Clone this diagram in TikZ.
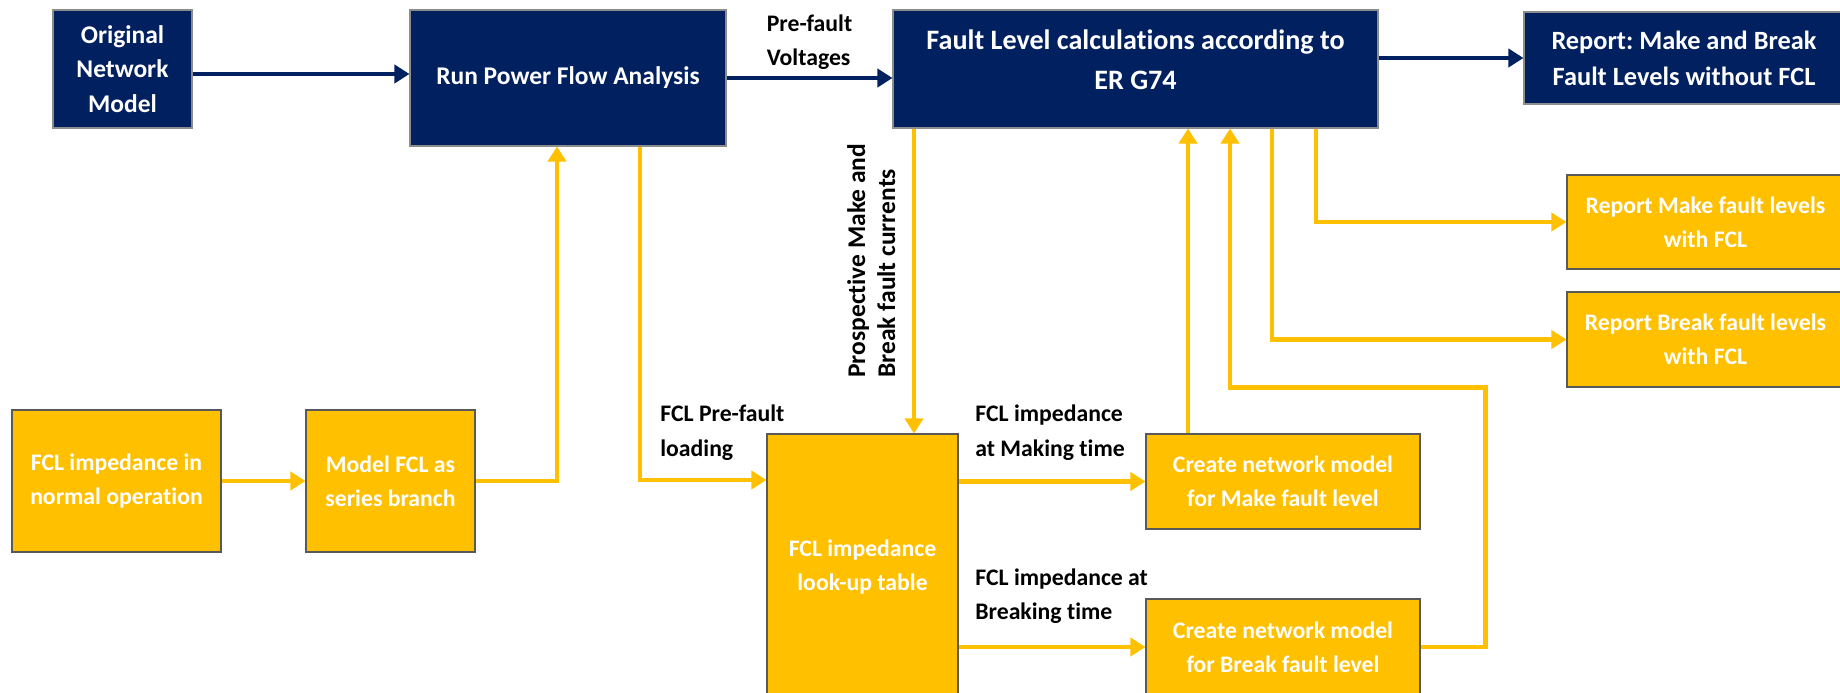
\documentclass[tikz,border=0pt]{standalone}
\usepackage{fontspec}
\setmainfont{Carlito}[Ligatures=NoCommon]
\usepackage{xcolor}
\usetikzlibrary{arrows.meta,positioning,calc}
\definecolor{navyblue}{HTML}{002060}
\definecolor{fclgold}{HTML}{FFC000}
\frenchspacing

\begin{document}
\begin{tikzpicture}[
  every node/.style={font=\fontsize{13.5}{19.5}\selectfont\bfseries,align=center},
  blk/.style={draw=black!45,line width=0.6pt,fill=navyblue,text=white,inner sep=2pt,
    font=\fontsize{14.5}{19.5}\selectfont\bfseries},
  ybox/.style={draw=black!65,line width=0.6pt,fill=fclgold,text=white,inner sep=2pt},
  lbl/.style={align=left,inner sep=0pt,text=black},
  narr/.style={-{Triangle[length=3mm,width=3.6mm]},line width=2.8pt,navyblue},
  yarr/.style={-{Triangle[length=3mm,width=3.6mm]},line width=2.8pt,fclgold}
]
\clip (0,0) rectangle (36.8,-13.86);

% top row
\node[blk,minimum width=2.78cm,minimum height=2.36cm] (orig) at (2.45,-1.38) {Original\\Network\\Model};
\node[blk,minimum width=6.32cm,minimum height=2.72cm] (pfa) at (11.36,-1.56) {Run Power Flow Analysis};
\node[blk,minimum width=9.70cm,minimum height=2.36cm,font=\fontsize{16}{22.7}\selectfont\bfseries] (flc) at (22.71,-1.38)
  {Fault Level calculations according to\\ER G74\\[-12.5pt]\mbox{}};
\node[blk,minimum width=6.4cm,minimum height=1.84cm,font=\fontsize{15}{20.5}\selectfont\bfseries] (rep) at (33.68,-1.16)
  {Report: Make and Break\\Fault Levels without FCL};

% reports with FCL
\node[ybox,minimum width=5.54cm,minimum height=1.88cm] (repmk) at (34.11,-4.44) {Report Make fault levels\\with FCL};
\node[ybox,minimum width=5.54cm,minimum height=1.90cm] (repbk) at (34.11,-6.79) {Report Break fault levels\\with FCL};

% FCL model
\node[ybox,minimum width=4.18cm,minimum height=2.84cm] (fclnorm) at (2.33,-9.62) {FCL impedance in\\normal operation};
\node[ybox,minimum width=3.38cm,minimum height=2.84cm] (model) at (7.81,-9.62) {Model FCL as\\series branch};
\node[ybox,minimum width=3.82cm,minimum height=5.32cm] (lookup) at (17.25,-11.34) {FCL impedance\\look-up table};
\node[ybox,minimum width=5.48cm,minimum height=1.90cm] (crmk) at (25.66,-9.63) {Create network model\\for Make fault level};
\node[ybox,minimum width=5.48cm,minimum height=1.92cm] (crbk) at (25.66,-12.94) {Create network model\\for Break fault level};

% labels
\node[lbl,anchor=north west] (lprel) at (13.2,-8.1) {FCL Pre-fault\\loading};
\node[lbl,anchor=north west] (lmake) at (19.5,-8.1) {FCL impedance\\at Making time};
\node[lbl,anchor=north west] (lbreak) at (19.5,-11.36) {FCL impedance at\\Breaking time};
\node[lbl,rotate=90,anchor=north west,font=\fontsize{14.5}{17}\selectfont\bfseries] (lprosp) at (16.94,-7.56)
  {Prospective Make and\\Break fault currents};

% navy arrows
\draw[narr] ([yshift=-1mm]orig.east) -- ([yshift=-1mm]orig.east -| pfa.west);
\draw[narr] (pfa.east) -- (pfa.east -| flc.west) node[midway,above=1.2mm,lbl]{Pre-fault\\Voltages};
\draw[narr] (flc.east |- rep.west) -- (rep.west);

% yellow arrows
\draw[yarr] (fclnorm) -- (model);
\draw[yarr] (model.east) -| ([xshift=-2.2mm]pfa.south);
\draw[yarr] ([xshift=14.4mm]pfa.south) |- ([yshift=17.4mm]lookup.west);
\draw[yarr] ([xshift=-44.3mm]flc.south) -- ([xshift=-44.3mm]flc.south |- lookup.north);
\draw[yarr] (lookup.east |- crmk.west) -- (crmk.west);
\draw[yarr] (lookup.east |- crbk.west) -- (crbk.west);
\draw[yarr] ([xshift=-19mm]crmk.north) -- ([xshift=-19mm]crmk.north |- flc.south);
\draw[yarr] (crbk.east) -| ([xshift=13mm]crbk.east |- repbk.south) -| ([xshift=18.9mm]flc.south);
\draw[yarr] ([xshift=27.3mm]flc.south) |- (repbk.west);
\draw[yarr] ([xshift=36.1mm]flc.south) |- (repmk.west);
\end{tikzpicture}
\end{document}
